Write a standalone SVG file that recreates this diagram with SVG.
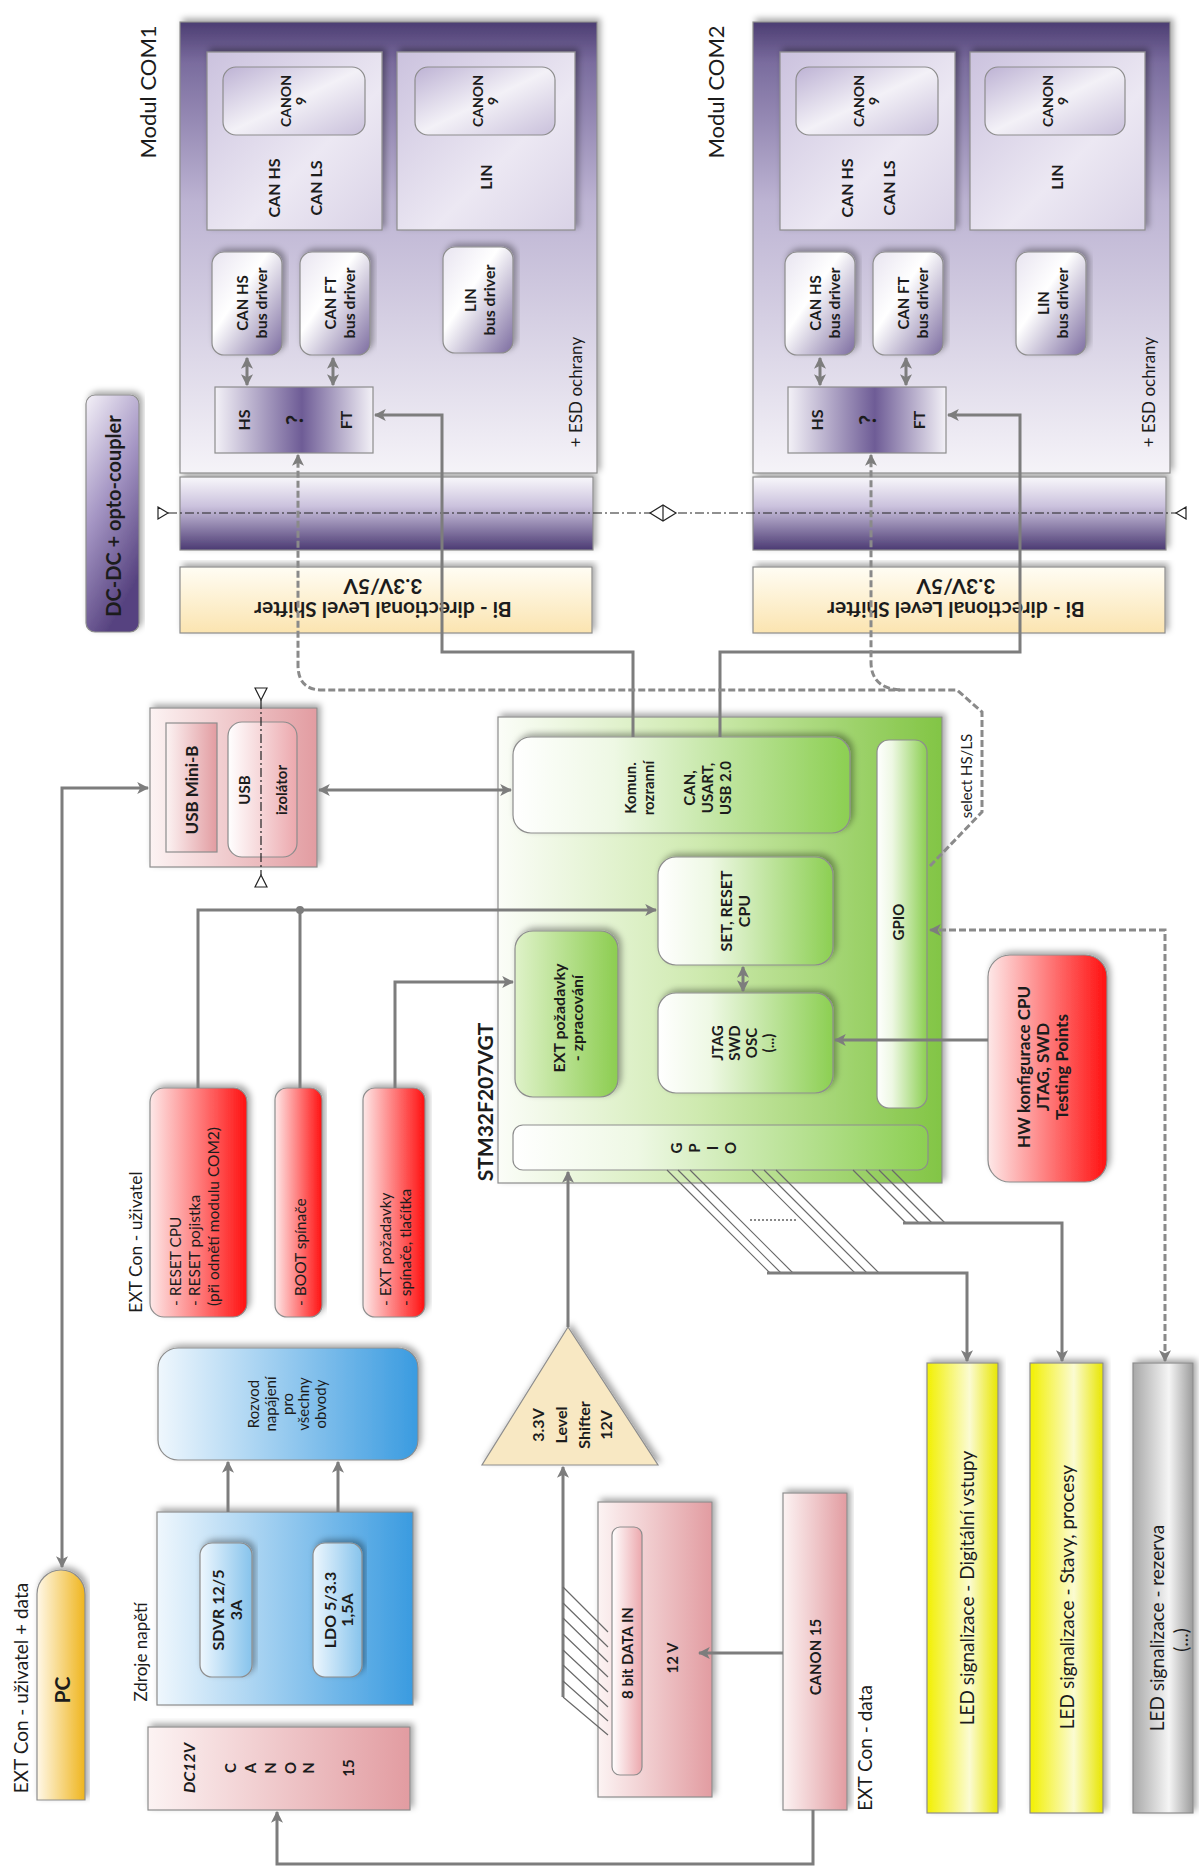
<svg xmlns="http://www.w3.org/2000/svg" width="1199" height="1872" viewBox="0 0 1199 1872">
<defs>
<style>
text{font-family:Lato,"Open Sans","Liberation Sans",sans-serif;fill:#1c1c1c;text-anchor:middle;dominant-baseline:central}
.b{font-weight:bold}
.s13{font-size:13px}.s14{font-size:14px}.s15{font-size:15px}.s16{font-size:16px}.s17{font-size:17px}.s19{font-size:19px}
.st{text-anchor:start;font-size:15.5px}
.ln{fill:none;stroke:#7d7d7d;stroke-width:3}
.dsh{fill:none;stroke:#8a8a8a;stroke-width:3;stroke-dasharray:7 3}
.dd{fill:none;stroke:#222;stroke-width:1.2;stroke-dasharray:9 3 2 3}
.bus{fill:none;stroke:#6a6a6a;stroke-width:1.2}
.tri{fill:#fff;stroke:#222;stroke-width:1.2}
.bx{stroke:#8d8d8d;stroke-width:1.2}
</style>
<filter id="sh" x="-10%" y="-10%" width="120%" height="120%"><feDropShadow dx="3" dy="-3" stdDeviation="3" flood-color="#000" flood-opacity="0.35"/></filter>
<marker id="ar" viewBox="0 0 10 10" refX="9" refY="5" markerWidth="4" markerHeight="4" orient="auto-start-reverse"><path d="M0,0 L10,5 L0,10 L2.5,5 z" fill="#7d7d7d"/></marker>
<linearGradient id="gMod" x1="0" y1="0" x2="0" y2="1"><stop offset="0" stop-color="#4c3d72"/><stop offset="0.09" stop-color="#7a6c9e"/><stop offset="0.4" stop-color="#bdb4d3"/><stop offset="1" stop-color="#f5f3f8"/></linearGradient>
<linearGradient id="gModIn" x1="0" y1="0" x2="1" y2="1"><stop offset="0" stop-color="#cbc2de"/><stop offset="0.6" stop-color="#ece8f3"/><stop offset="1" stop-color="#d9d2e6"/></linearGradient>
<linearGradient id="gCanon" x1="0" y1="0" x2="1" y2="1"><stop offset="0" stop-color="#bdb2d4"/><stop offset="0.5" stop-color="#f3f1f7"/><stop offset="1" stop-color="#c9c0db"/></linearGradient>
<linearGradient id="gDrv" x1="0" y1="0" x2="1" y2="1"><stop offset="0" stop-color="#e8e4f0"/><stop offset="0.4" stop-color="#ffffff"/><stop offset="1" stop-color="#7c6ca0"/></linearGradient>
<linearGradient id="gHS" x1="0" y1="0" x2="1" y2="0"><stop offset="0" stop-color="#f3f1f7"/><stop offset="0.55" stop-color="#6e5c96"/><stop offset="1" stop-color="#f3f1f7"/></linearGradient>
<linearGradient id="gBand" x1="0" y1="0" x2="0" y2="1"><stop offset="0" stop-color="#f8f7fb"/><stop offset="0.4" stop-color="#cbc2dd"/><stop offset="1" stop-color="#4b3a73"/></linearGradient>
<linearGradient id="gShift" x1="0" y1="0" x2="0" y2="1"><stop offset="0" stop-color="#fffdf4"/><stop offset="1" stop-color="#fbe4b0"/></linearGradient>
<linearGradient id="gDC" x1="0" y1="0" x2="0.4" y2="1"><stop offset="0" stop-color="#f4f1f8"/><stop offset="0.5" stop-color="#a596c4"/><stop offset="1" stop-color="#574380"/></linearGradient>
<linearGradient id="gPink" x1="0" y1="0" x2="1" y2="0"><stop offset="0" stop-color="#fcf3f3"/><stop offset="1" stop-color="#e29ca1"/></linearGradient>
<linearGradient id="gPinkL" x1="0" y1="0" x2="1" y2="0"><stop offset="0" stop-color="#ffffff"/><stop offset="1" stop-color="#eca8ad"/></linearGradient>
<linearGradient id="gGreen" x1="0" y1="0" x2="1" y2="0"><stop offset="0" stop-color="#fbfdf8"/><stop offset="0.45" stop-color="#cfeab0"/><stop offset="1" stop-color="#82c545"/></linearGradient>
<linearGradient id="gGreenIn" x1="0" y1="0" x2="1" y2="0"><stop offset="0" stop-color="#ffffff"/><stop offset="0.3" stop-color="#eef8e4"/><stop offset="1" stop-color="#8ccf52"/></linearGradient>
<linearGradient id="gGreenX" x1="0" y1="0" x2="1" y2="0"><stop offset="0" stop-color="#dff2c9"/><stop offset="1" stop-color="#8ccd50"/></linearGradient>
<linearGradient id="gRed" x1="0" y1="0" x2="1" y2="0"><stop offset="0" stop-color="#fde8e8"/><stop offset="1" stop-color="#ff1010"/></linearGradient>
<linearGradient id="gBlue" x1="0" y1="0" x2="1" y2="0"><stop offset="0" stop-color="#eff7fd"/><stop offset="1" stop-color="#3a9be0"/></linearGradient>
<linearGradient id="gBlueIn" x1="0" y1="0" x2="1" y2="0"><stop offset="0" stop-color="#eef7fe"/><stop offset="1" stop-color="#86c3ec"/></linearGradient>
<linearGradient id="gPC" x1="0" y1="0" x2="1" y2="0"><stop offset="0" stop-color="#fff8e8"/><stop offset="1" stop-color="#efb51e"/></linearGradient>
<linearGradient id="gYel" x1="0" y1="0" x2="1" y2="0"><stop offset="0" stop-color="#f2f000"/><stop offset="0.6" stop-color="#fbfbd2"/><stop offset="1" stop-color="#e8e600"/></linearGradient>
<linearGradient id="gGray" x1="0" y1="0" x2="1" y2="0"><stop offset="0" stop-color="#a8a8a8"/><stop offset="0.6" stop-color="#f5f5f5"/><stop offset="1" stop-color="#9c9c9c"/></linearGradient>
</defs>

<rect width="1199" height="1872" fill="#fff"/>

<!-- isolation barrier bands -->
<g id="iso1"><rect x="180" y="477" width="413" height="73" fill="url(#gBand)" class="bx" filter="url(#sh)"/></g>
<g id="iso2"><rect x="753" y="477" width="413" height="73" fill="url(#gBand)" class="bx" filter="url(#sh)"/></g>

<!-- level shifters -->
<g id="shift1">
<rect x="180" y="567" width="412" height="66" fill="url(#gShift)" class="bx" filter="url(#sh)"/>
<text class="b" style="font-size:21px" transform="translate(383,610) rotate(180)">Bi - directional Level Shifter</text>
<text class="b" style="font-size:21px" transform="translate(383,587) rotate(180)">3.3V/5V</text>
</g>
<g id="shift2">
<rect x="753" y="567" width="412" height="66" fill="url(#gShift)" class="bx" filter="url(#sh)"/>
<text class="b" style="font-size:21px" transform="translate(956,610) rotate(180)">Bi - directional Level Shifter</text>
<text class="b" style="font-size:21px" transform="translate(956,587) rotate(180)">3.3V/5V</text>
</g>

<!-- communication module 1 -->
<g id="com1">
<text style="font-size:22px" transform="translate(147,92) rotate(-90)">Modul COM1</text>
<rect x="180" y="22" width="417" height="451" fill="url(#gMod)" class="bx" filter="url(#sh)"/>
<rect x="207" y="52" width="175" height="178" fill="url(#gModIn)" class="bx" filter="url(#sh)"/>
<rect x="223" y="67" width="142" height="68" rx="13" fill="url(#gCanon)" class="bx"/>
<text class="b s14" transform="translate(285,101) rotate(-90)">CANON</text>
<text class="b s14" transform="translate(300,101) rotate(-90)">9</text>
<text class="b s16" transform="translate(273,188) rotate(-90)">CAN HS</text>
<text class="b s16" transform="translate(315,188) rotate(-90)">CAN LS</text>
<rect x="397" y="52" width="178" height="178" fill="url(#gModIn)" class="bx" filter="url(#sh)"/>
<rect x="415" y="67" width="140" height="68" rx="13" fill="url(#gCanon)" class="bx"/>
<text class="b s14" transform="translate(477,101) rotate(-90)">CANON</text>
<text class="b s14" transform="translate(492,101) rotate(-90)">9</text>
<text class="b s16" transform="translate(485,177) rotate(-90)">LIN</text>
<rect x="212" y="252" width="70" height="103" rx="12" fill="url(#gDrv)" class="bx" filter="url(#sh)"/>
<text class="b s15" transform="translate(242,303) rotate(-90)">CAN HS</text>
<text class="b s16" transform="translate(260,303) rotate(-90)">bus driver</text>
<rect x="300" y="252" width="70" height="103" rx="12" fill="url(#gDrv)" class="bx" filter="url(#sh)"/>
<text class="b s15" transform="translate(330,303) rotate(-90)">CAN FT</text>
<text class="b s16" transform="translate(348,303) rotate(-90)">bus driver</text>
<rect x="443" y="247" width="70" height="106" rx="12" fill="url(#gDrv)" class="bx" filter="url(#sh)"/>
<text class="b s15" transform="translate(470,300) rotate(-90)">LIN</text>
<text class="b s16" transform="translate(488,300) rotate(-90)">bus driver</text>
<rect x="215" y="387" width="158" height="66" fill="url(#gHS)" class="bx"/>
<text class="b s16" transform="translate(243,420) rotate(-90)">HS</text>
<text class="b" style="font-size:22px" transform="translate(294,420) rotate(-90)">?</text>
<text class="b s16" transform="translate(345,420) rotate(-90)">FT</text>
<text class="s17" transform="translate(575,392) rotate(-90)">+ ESD ochrany</text>
</g>

<!-- communication module 2 -->
<g id="com2" transform="translate(573,0)">
<text style="font-size:22px" transform="translate(142,92) rotate(-90)">Modul COM2</text>
<rect x="180" y="22" width="417" height="451" fill="url(#gMod)" class="bx" filter="url(#sh)"/>
<rect x="207" y="52" width="175" height="178" fill="url(#gModIn)" class="bx" filter="url(#sh)"/>
<rect x="223" y="67" width="142" height="68" rx="13" fill="url(#gCanon)" class="bx"/>
<text class="b s14" transform="translate(285,101) rotate(-90)">CANON</text>
<text class="b s14" transform="translate(300,101) rotate(-90)">9</text>
<text class="b s16" transform="translate(273,188) rotate(-90)">CAN HS</text>
<text class="b s16" transform="translate(315,188) rotate(-90)">CAN LS</text>
<rect x="397" y="52" width="175" height="178" fill="url(#gModIn)" class="bx" filter="url(#sh)"/>
<rect x="412" y="67" width="140" height="68" rx="13" fill="url(#gCanon)" class="bx"/>
<text class="b s14" transform="translate(474,101) rotate(-90)">CANON</text>
<text class="b s14" transform="translate(489,101) rotate(-90)">9</text>
<text class="b s16" transform="translate(483,177) rotate(-90)">LIN</text>
<rect x="212" y="252" width="70" height="103" rx="12" fill="url(#gDrv)" class="bx" filter="url(#sh)"/>
<text class="b s15" transform="translate(242,303) rotate(-90)">CAN HS</text>
<text class="b s16" transform="translate(260,303) rotate(-90)">bus driver</text>
<rect x="300" y="252" width="70" height="103" rx="12" fill="url(#gDrv)" class="bx" filter="url(#sh)"/>
<text class="b s15" transform="translate(330,303) rotate(-90)">CAN FT</text>
<text class="b s16" transform="translate(348,303) rotate(-90)">bus driver</text>
<rect x="443" y="252" width="70" height="103" rx="12" fill="url(#gDrv)" class="bx" filter="url(#sh)"/>
<text class="b s15" transform="translate(470,303) rotate(-90)">LIN</text>
<text class="b s16" transform="translate(488,303) rotate(-90)">bus driver</text>
<rect x="215" y="387" width="158" height="66" fill="url(#gHS)" class="bx"/>
<text class="b s16" transform="translate(243,420) rotate(-90)">HS</text>
<text class="b" style="font-size:22px" transform="translate(294,420) rotate(-90)">?</text>
<text class="b s16" transform="translate(345,420) rotate(-90)">FT</text>
<text class="s17" transform="translate(575,392) rotate(-90)">+ ESD ochrany</text>
</g>

<!-- galvanic isolation -->
<g id="dcdc">
<rect x="86" y="395" width="53" height="237" rx="9" fill="url(#gDC)" class="bx" filter="url(#sh)"/>
<text class="b" style="font-size:20px" transform="translate(113,516) rotate(-90)">DC-DC + opto-coupler</text>
</g>

<!-- USB -->
<g id="usb">
<rect x="150" y="708" width="167" height="159" fill="url(#gPink)" class="bx" filter="url(#sh)"/>
<rect x="166" y="723" width="51" height="129" fill="url(#gPink)" class="bx"/>
<text class="b s17" transform="translate(191,790) rotate(-90)">USB Mini-B</text>
<rect x="228" y="722" width="69" height="135" rx="14" fill="url(#gPinkL)" class="bx"/>
<text class="b s15" transform="translate(244,790) rotate(-90)">USB</text>
<text class="b s15" transform="translate(281,790) rotate(-90)">izolátor</text>
</g>

<!-- microcontroller -->
<g id="mcu">
<text class="b" style="font-size:21px" transform="translate(484,1102) rotate(-90)">STM32F207VGT</text>
<rect x="498" y="717" width="444" height="466" fill="url(#gGreen)" class="bx" filter="url(#sh)"/>
</g>
<g id="komun">
<rect x="513" y="737" width="337" height="96" rx="18" fill="url(#gGreenIn)" class="bx" filter="url(#sh)"/>
<text class="b s15" transform="translate(630,788) rotate(-90)">Komun.</text>
<text class="b s15" transform="translate(648,788) rotate(-90)">rozranní</text>
<text class="b s15" transform="translate(689,788) rotate(-90)">CAN,</text>
<text class="b s15" transform="translate(707,788) rotate(-90)">USART,</text>
<text class="b s15" transform="translate(725,788) rotate(-90)">USB 2.0</text>
</g>
<g id="setreset">
<rect x="658" y="857" width="175" height="108" rx="18" fill="url(#gGreenIn)" class="bx" filter="url(#sh)"/>
<text class="b s16" transform="translate(725,911) rotate(-90)">SET, RESET</text>
<text class="b s16" transform="translate(743,911) rotate(-90)">CPU</text>
</g>
<g id="extreq">
<rect x="515" y="931" width="103" height="166" rx="18" fill="url(#gGreenX)" class="bx" filter="url(#sh)"/>
<text class="b s16" transform="translate(558,1018) rotate(-90)">EXT požadavky</text>
<text class="b s16" transform="translate(576,1018) rotate(-90)">- zpracování</text>
</g>
<g id="jtag">
<rect x="658" y="993" width="175" height="100" rx="18" fill="url(#gGreenIn)" class="bx" filter="url(#sh)"/>
<text class="b s15" transform="translate(717,1043) rotate(-90)">JTAG</text>
<text class="b s15" transform="translate(734,1043) rotate(-90)">SWD</text>
<text class="b s15" transform="translate(751,1043) rotate(-90)">OSC</text>
<text class="b s15" transform="translate(768,1043) rotate(-90)">(...)</text>
</g>
<g id="gpio-l">
<rect x="513" y="1125" width="415" height="45" rx="10" fill="url(#gGreenIn)" class="bx"/>
<text class="b s15" transform="translate(676,1148) rotate(-90)">G</text>
<text class="b s15" transform="translate(694,1148) rotate(-90)">P</text>
<text class="b s15" transform="translate(712,1148) rotate(-90)">I</text>
<text class="b s15" transform="translate(730,1148) rotate(-90)">O</text>
</g>
<g id="gpio-r">
<rect x="877" y="740" width="50" height="368" rx="12" fill="url(#gGreenIn)" class="bx"/>
<text class="b s15" transform="translate(898,922) rotate(-90)">GPIO</text>
</g>

<!-- HW configuration -->
<g id="hwcfg">
<rect x="988" y="955" width="119" height="227" rx="22" fill="url(#gRed)" class="bx" filter="url(#sh)"/>
<text class="b s17" transform="translate(1023,1067) rotate(-90)">HW konfigurace CPU</text>
<text class="b s17" transform="translate(1042,1067) rotate(-90)">JTAG, SWD</text>
<text class="b s17" transform="translate(1061,1067) rotate(-90)">Testing Points</text>
</g>

<!-- user connector inputs -->
<text style="font-size:17.5px" transform="translate(135,1242) rotate(-90)">EXT Con - uživatel</text>
<g id="reset">
<rect x="150" y="1088" width="97" height="229" rx="14" fill="url(#gRed)" class="bx" filter="url(#sh)"/>
<text class="st" transform="translate(175,1306) rotate(-90)">- RESET CPU</text>
<text class="st" transform="translate(194,1306) rotate(-90)">- RESET pojistka</text>
<text class="st" transform="translate(213,1306) rotate(-90)">(při odnětí modulu COM2)</text>
</g>
<g id="boot">
<rect x="275" y="1088" width="47" height="229" rx="12" fill="url(#gRed)" class="bx" filter="url(#sh)"/>
<text class="st" transform="translate(300,1306) rotate(-90)">- BOOT spínače</text>
</g>
<g id="extbtn">
<rect x="363" y="1088" width="62" height="229" rx="12" fill="url(#gRed)" class="bx" filter="url(#sh)"/>
<text class="st" transform="translate(385,1306) rotate(-90)">- EXT požadavky</text>
<text class="st" transform="translate(405,1306) rotate(-90)">- spínače, tlačítka</text>
</g>

<!-- power -->
<g id="rozvod">
<rect x="158" y="1348" width="260" height="112" rx="20" fill="url(#gBlue)" class="bx" filter="url(#sh)"/>
<text class="s15" transform="translate(253,1404) rotate(-90)">Rozvod</text>
<text class="s15" transform="translate(270,1404) rotate(-90)">napájení</text>
<text class="s15" transform="translate(287,1404) rotate(-90)">pro</text>
<text class="s15" transform="translate(303,1404) rotate(-90)">všechny</text>
<text class="s15" transform="translate(320,1404) rotate(-90)">obvody</text>
</g>
<text class="s17" transform="translate(140,1652) rotate(-90)">Zdroje napětí</text>
<g id="zdroje">
<rect x="157" y="1512" width="256" height="193" fill="url(#gBlue)" class="bx" filter="url(#sh)"/>
<rect x="200" y="1543" width="52" height="134" rx="12" fill="url(#gBlueIn)" class="bx" filter="url(#sh)"/>
<text class="b s16" transform="translate(217,1610) rotate(-90)">SDVR 12/5</text>
<text class="b s16" transform="translate(235,1610) rotate(-90)">3A</text>
<rect x="313" y="1543" width="49" height="134" rx="12" fill="url(#gBlueIn)" class="bx" filter="url(#sh)"/>
<text class="b s16" transform="translate(329,1610) rotate(-90)">LDO 5/3.3</text>
<text class="b s16" transform="translate(346,1610) rotate(-90)">1,5A</text>
</g>
<g id="dc12v">
<rect x="148" y="1727" width="262" height="83" fill="url(#gPink)" class="bx" filter="url(#sh)"/>
<text class="b s16" style="font-style:italic" transform="translate(188,1768) rotate(-90)">DC12V</text>
<text class="b s15" transform="translate(230,1768) rotate(-90)">C</text>
<text class="b s15" transform="translate(250,1768) rotate(-90)">A</text>
<text class="b s15" transform="translate(270,1768) rotate(-90)">N</text>
<text class="b s15" transform="translate(290,1768) rotate(-90)">O</text>
<text class="b s15" transform="translate(308,1768) rotate(-90)">N</text>
<text class="b s15" transform="translate(348,1768) rotate(-90)">15</text>
</g>

<!-- PC -->
<text class="s19" transform="translate(20,1688) rotate(-90)">EXT Con - uživatel + data</text>
<g id="pc">
<path d="M37,1800 V1594 A24,24 0 0 1 85,1594 V1800 Z" fill="url(#gPC)" class="bx" filter="url(#sh)"/>
<text class="b" style="font-size:21px" transform="translate(61,1690) rotate(-90)">PC</text>
</g>

<!-- data input -->
<g id="lvl12">
<polygon points="568,1327 482,1465 658,1465" fill="#f8e8c3" class="bx" filter="url(#sh)"/>
<text class="b s16" transform="translate(537,1425) rotate(-90)">3.3V</text>
<text class="b s16" transform="translate(560,1425) rotate(-90)">Level</text>
<text class="b s16" transform="translate(583,1425) rotate(-90)">Shifter</text>
<text class="b s16" transform="translate(605,1425) rotate(-90)">12V</text>
</g>
<g id="data8">
<rect x="598" y="1502" width="114" height="295" fill="url(#gPink)" class="bx" filter="url(#sh)"/>
<rect x="612" y="1527" width="30" height="248" rx="8" fill="url(#gPinkL)" class="bx"/>
<text class="b s15" transform="translate(627,1653) rotate(-90)">8 bit DATA IN</text>
<text class="b s15" transform="translate(672,1658) rotate(-90)">12 V</text>
</g>
<g id="canon15">
<rect x="783" y="1493" width="64" height="317" fill="url(#gPink)" class="bx" filter="url(#sh)"/>
<text class="b s15" transform="translate(815,1657) rotate(-90)">CANON 15</text>
</g>
<text class="s19" transform="translate(864,1748) rotate(-90)">EXT Con - data</text>

<!-- LED signalling -->
<g id="led1">
<rect x="927" y="1363" width="71" height="450" fill="url(#gYel)" class="bx" filter="url(#sh)"/>
<text class="s19" transform="translate(966,1588) rotate(-90)">LED signalizace - Digitální vstupy</text>
</g>
<g id="led2">
<rect x="1030" y="1363" width="73" height="450" fill="url(#gYel)" class="bx" filter="url(#sh)"/>
<text class="s19" transform="translate(1066,1597) rotate(-90)">LED signalizace - Stavy, procesy</text>
</g>
<g id="led3">
<rect x="1133" y="1363" width="60" height="450" fill="url(#gGray)" class="bx" filter="url(#sh)"/>
<text class="s19" transform="translate(1156,1628) rotate(-90)">LED signalizace - rezerva</text>
<text class="s19" transform="translate(1180,1640) rotate(-90)">(...)</text>
</g>

<!-- connectors -->
<g id="connectors">
<line class="dd" x1="168" y1="513" x2="1176" y2="513"/>
<polygon class="tri" points="158,507 168,513 158,519"/>
<polygon class="tri" points="1186,507 1176,513 1186,519"/>
<polygon class="tri" points="650,513 663,505 676,513 663,521"/>
<line x1="663" y1="505" x2="663" y2="521" stroke="#222" stroke-width="1.2"/>
<line class="dd" x1="261" y1="700" x2="261" y2="875"/>
<polygon class="tri" points="255,688 267,688 261,700"/>
<polygon class="tri" points="255,887 267,887 261,875"/>

<line class="ln" x1="247" y1="358" x2="247" y2="385" marker-start="url(#ar)" marker-end="url(#ar)"/>
<line class="ln" x1="333" y1="358" x2="333" y2="385" marker-start="url(#ar)" marker-end="url(#ar)"/>
<line class="ln" x1="820" y1="358" x2="820" y2="385" marker-start="url(#ar)" marker-end="url(#ar)"/>
<line class="ln" x1="906" y1="358" x2="906" y2="385" marker-start="url(#ar)" marker-end="url(#ar)"/>

<path class="ln" d="M633,737 V652 H442 V415 H375" marker-end="url(#ar)"/>
<path class="ln" d="M720,737 V652 H1020 V415 H948" marker-end="url(#ar)"/>
<path class="dsh" d="M930,866 L982,812 V712 L957,690 H322 Q298,690 298,665 V455" marker-end="url(#ar)"/>
<path class="dsh" d="M900,690 Q871,688 871,662 V455" marker-end="url(#ar)"/>
<text class="s15" transform="translate(966,776) rotate(-90)">select HS/LS</text>

<path class="ln" d="M62,1567 V788 H148" marker-start="url(#ar)" marker-end="url(#ar)"/>
<line class="ln" x1="319" y1="790" x2="511" y2="790" marker-start="url(#ar)" marker-end="url(#ar)"/>

<path class="ln" d="M198,1088 V910 H656" marker-end="url(#ar)"/>
<line class="ln" x1="300" y1="1088" x2="300" y2="910"/>
<circle cx="300" cy="910" r="4" fill="#7d7d7d"/>
<path class="ln" d="M395,1088 V982 H513" marker-end="url(#ar)"/>
<line class="ln" x1="743" y1="967" x2="743" y2="991" marker-start="url(#ar)" marker-end="url(#ar)"/>
<line class="ln" x1="988" y1="1040" x2="835" y2="1040" marker-end="url(#ar)"/>
<path class="dsh" d="M1165,1361 V930 H930" marker-start="url(#ar)" marker-end="url(#ar)"/>

<line class="ln" x1="228" y1="1512" x2="228" y2="1462" marker-end="url(#ar)"/>
<line class="ln" x1="338" y1="1512" x2="338" y2="1462" marker-end="url(#ar)"/>

<line class="ln" x1="568" y1="1327" x2="568" y2="1172" marker-end="url(#ar)"/>
<line class="ln" x1="563" y1="1697" x2="563" y2="1467" marker-end="url(#ar)"/>
<path class="bus" d="M563,1587 L608,1632 M563,1603 L608,1647 M563,1618 L608,1662 M563,1634 L608,1677 M563,1650 L608,1692 M563,1665 L608,1707 M563,1681 L608,1721 M563,1697 L608,1735"/>
<line class="ln" x1="783" y1="1653" x2="699" y2="1653" marker-end="url(#ar)"/>
<path class="ln" d="M813,1810 V1864 H277 V1812" marker-end="url(#ar)"/>

<path class="bus" d="M667,1170 L770,1273 M678,1170 L781,1273 M690,1170 L793,1273 M752,1170 L855,1273 M764,1170 L867,1273 M776,1170 L879,1273 M853,1170 L906,1223 M866,1170 L919,1223 M879,1170 L932,1223 M892,1170 L945,1223"/>
<line x1="750" y1="1220" x2="797" y2="1220" stroke="#888" stroke-width="2" stroke-dasharray="2 2"/>
<path class="ln" d="M767,1273 H967 V1361" marker-end="url(#ar)"/>
<path class="ln" d="M903,1223 H1062 V1361" marker-end="url(#ar)"/>
</g>
</svg>
